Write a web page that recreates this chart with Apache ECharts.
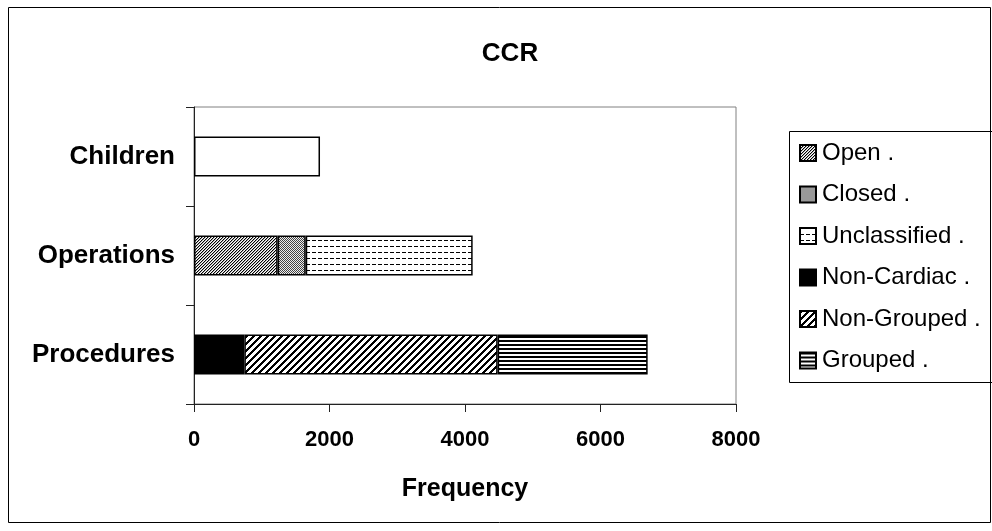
<!DOCTYPE html>
<html>
<head>
<meta charset="utf-8">
<script src="https://cdn.jsdelivr.net/npm/echarts@6/dist/echarts.min.js"></script>
<style>html,body{margin:0;padding:0;background:#fff}#c{width:992px;height:531px}</style>
</head>
<body>
<div id="c"></div>
<script>
const categories = ['Children', 'Operations', 'Procedures'];
const childrenVals = [1860, null, null];
const openVals = [null, 1235, null];
const closedVals = [null, 414, null];
const unclassifiedVals = [null, 2464, null];
const nonCardiacVals = [null, null, 743];
const nonGroupedVals = [null, null, 3739];
const groupedVals = [null, null, 2214];
const xTicks = [0, 2000, 4000, 6000, 8000];

function pat(w, h, fn) {
  const c = document.createElement('canvas');
  c.width = w; c.height = h;
  const g = c.getContext('2d');
  g.fillStyle = '#fff'; g.fillRect(0, 0, w, h);
  for (let y = 0; y < h; y++) for (let x = 0; x < w; x++) {
    const col = fn(x, y);
    if (col) { g.fillStyle = col; g.fillRect(x, y, 1, 1); }
  }
  return { image: c, repeat: 'repeat' };
}
const pOpen = pat(3, 3, (x, y) => ((x + y) % 3 === 0 ? '#000' : ((x + y) % 3 === 1 ? '#aaa' : null)));
const pClosed = pat(2, 2, (x, y) => ((x + y) % 2 === 0 ? '#444' : '#eee'));
const pUncl = pat(6, 6, (x, y) => (y === 0 && x < 4 ? '#000' : null));
const pNonG = pat(7, 7, (x, y) => ((x + y) % 7 < 3 ? '#000' : null));
const pGroup = pat(4, 4, (x, y) => (y < 2 ? '#000' : null));

const font = 'Liberation Sans, Arial, sans-serif';
function mk(name, data, color) {
  return {
    name, type: 'bar', stack: 'all', data, barWidth: 40,
    itemStyle: { color, borderColor: '#000', borderWidth: 1.5 },
    emphasis: { disabled: true }
  };
}
const chart = echarts.init(document.getElementById('c'));
chart.setOption({
  animation: false,
  backgroundColor: '#fff',
  title: { text: 'CCR', left: 505, textAlign: 'center', top: 36,
    textStyle: { fontFamily: font, fontSize: 26, fontWeight: 'bold', color: '#000' } },
  grid: { left: 194, top: 107, right: 256, bottom: 127, show: true, borderColor: '#808080', borderWidth: 1 },
  xAxis: {
    type: 'value', min: 0, max: 8000, interval: 2000,
    name: 'Frequency', nameLocation: 'middle', nameGap: 73,
    nameTextStyle: { fontFamily: font, fontSize: 25, fontWeight: 'bold', color: '#000' },
    axisLine: { show: true, lineStyle: { color: '#222', width: 1 } },
    axisTick: { show: true, length: 8, lineStyle: { color: '#222' } },
    splitLine: { show: false },
    axisLabel: { fontFamily: font, fontSize: 22, fontWeight: 'bold', color: '#000', margin: 25,
      formatter: v => (xTicks.includes(v) ? String(v) : '') }
  },
  yAxis: {
    type: 'category', data: categories, inverse: true,
    axisLine: { show: true, lineStyle: { color: '#222', width: 1 } },
    axisTick: { show: true, length: 8, lineStyle: { color: '#222' } },
    axisLabel: { fontFamily: font, fontSize: 26, fontWeight: 'bold', color: '#000', margin: 19 }
  },
  legend: {
    orient: 'vertical', left: 794, top: 136, itemGap: 17.5, itemWidth: 16, itemHeight: 16,
    icon: 'rect', selectedMode: false,
    data: ['Open .', 'Closed .', 'Unclassified .', 'Non-Cardiac .', 'Non-Grouped .', 'Grouped .'],
    textStyle: { fontFamily: font, fontSize: 24, color: '#000', padding: [0, 0, 0, 1] }
  },
  graphic: [
    { type: 'rect', shape: { x: 8.5, y: 7.5, width: 982, height: 515 }, style: { fill: 'none', stroke: '#000', lineWidth: 1 }, silent: true, z: -1 },
    { type: 'rect', shape: { x: 789.5, y: 131.5, width: 210, height: 251 }, style: { fill: 'none', stroke: '#000', lineWidth: 1 }, silent: true }
  ],
  series: [
    mk('Children', childrenVals, '#fff'),
    mk('Open .', openVals, pOpen),
    mk('Closed .', closedVals, pClosed),
    mk('Unclassified .', unclassifiedVals, pUncl),
    mk('Non-Cardiac .', nonCardiacVals, '#000'),
    mk('Non-Grouped .', nonGroupedVals, pNonG),
    mk('Grouped .', groupedVals, pGroup)
  ]
});
</script>
</body>
</html>
